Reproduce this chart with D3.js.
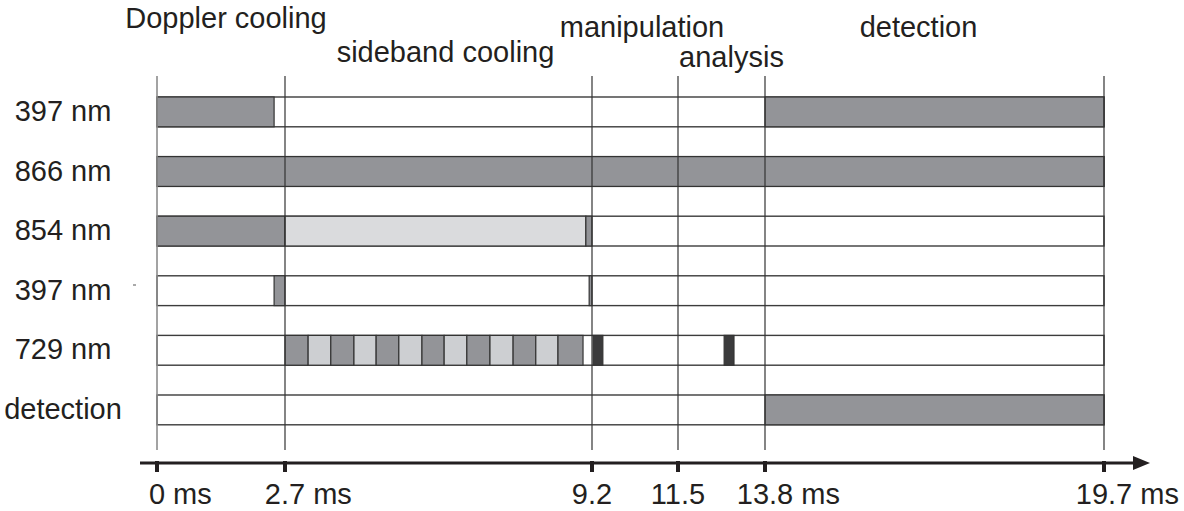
<!DOCTYPE html>
<html>
<head>
<meta charset="utf-8">
<script src="https://cdn.jsdelivr.net/npm/d3@7"></script>
<style>
  html, body { margin: 0; padding: 0; background: #fff; }
  svg { display: block; font-family: "Liberation Sans", Arial, Helvetica, sans-serif; }
</style>
</head>
<body>
<svg id="chart" width="1184" height="511"></svg>
<script>
// Laser pulse sequence: channels, time marks and pulses (times in ms)
const channels = ["397 nm", "866 nm", "854 nm", "397 nm", "729 nm", "detection"];

const timeMarks  = [0, 2.7, 9.2, 11.5, 13.8, 19.7];
const timeLabels = ["0 ms", "2.7 ms", "9.2", "11.5", "13.8 ms", "19.7 ms"];

const phaseNames = ["Doppler cooling", "sideband cooling", "manipulation", "analysis", "detection"];
const phaseStart = [0, 2.7, 9.2, 11.5, 13.8];
const phaseEnd   = [2.7, 9.2, 11.5, 13.8, 19.7];

// pulse: [channel index, start, end, shade]
const pulses = [
  [0, 0,    2.47, "mid"],
  [0, 13.8, 19.7, "mid"],
  [1, 0,    19.7, "mid"],
  [2, 0,    2.7,  "mid"],
  [2, 2.7,  9.07, "light"],
  [2, 9.07, 9.2,  "mid"],
  [3, 2.47, 2.7,  "mid"],
  [3, 9.14, 9.2,  "mid"],
  [4, 2.7,  3.19, "mid"],
  [4, 3.19, 3.67, "pale"],
  [4, 3.67, 4.16, "mid"],
  [4, 4.16, 4.63, "pale"],
  [4, 4.63, 5.11, "mid"],
  [4, 5.11, 5.60, "pale"],
  [4, 5.60, 6.07, "mid"],
  [4, 6.07, 6.55, "pale"],
  [4, 6.55, 7.04, "mid"],
  [4, 7.04, 7.53, "pale"],
  [4, 7.53, 8.01, "mid"],
  [4, 8.01, 8.48, "pale"],
  [4, 8.48, 9.01, "mid"],
  [4, 9.23, 9.49, "dark"],
  [4, 12.72, 12.98, "dark"],
  [5, 13.8, 19.7, "mid"]
];

const shadeColor = { mid: "#939498", light: "#dadbdd", pale: "#cdcfd2", dark: "#3b3b3c" };
const ink = "#231f20";
const fontSize = 29;

const svg = d3.select("#chart");

// piecewise time axis: each interval between marks has its own span
const x = d3.scaleLinear()
  .domain(timeMarks)
  .range([157, 285, 592, 678, 765, 1104]);

const y = d3.scaleBand()
  .domain(d3.range(channels.length))
  .range([67.2, 454.6])
  .paddingInner(0.5)
  .paddingOuter(0.5);

// channel rows
svg.append("g").selectAll("rect")
  .data(channels)
  .join("rect")
  .attr("x", x(0))
  .attr("y", (d, i) => y(i))
  .attr("width", x(19.7) - x(0))
  .attr("height", y.bandwidth())
  .attr("fill", "#fff")
  .attr("stroke", "#3c3c3c")
  .attr("stroke-width", 1.4);

// pulses
svg.append("g").selectAll("rect")
  .data(pulses)
  .join("rect")
  .attr("x", d => x(d[1]))
  .attr("y", d => y(d[0]))
  .attr("width", d => x(d[2]) - x(d[1]))
  .attr("height", y.bandwidth())
  .attr("fill", d => shadeColor[d[3]])
  .attr("stroke", "#333")
  .attr("stroke-width", 1.2);

// phase boundaries
svg.append("g").selectAll("line")
  .data(timeMarks)
  .join("line")
  .attr("x1", d => x(d)).attr("x2", d => x(d))
  .attr("y1", 76).attr("y2", 450)
  .attr("stroke", d => d === 0 ? "#8c8c8c" : "#333")
  .attr("stroke-width", d => d === 0 ? 1.6 : 1.2);

// channel labels
svg.append("g").selectAll("text")
  .data(channels)
  .join("text")
  .attr("x", 63)
  .attr("y", (d, i) => y(i) + y.bandwidth() / 2 + 9)
  .attr("text-anchor", "middle")
  .attr("font-size", fontSize)
  .attr("fill", ink)
  .text(d => d);

// small mark beside the second 397 nm channel
svg.append("line")
  .attr("x1", 133).attr("x2", 136)
  .attr("y1", 285).attr("y2", 285)
  .attr("stroke", "#555").attr("stroke-width", 1);

// phase titles, staggered in two lines
const titleY  = [28, 62, 37, 67, 37];
const titleDx = [5, 7, 7, 10, -16];
svg.append("g").selectAll("text")
  .data(phaseNames)
  .join("text")
  .attr("x", (d, i) => (x(phaseStart[i]) + x(phaseEnd[i])) / 2 + titleDx[i])
  .attr("y", (d, i) => titleY[i])
  .attr("text-anchor", "middle")
  .attr("font-size", fontSize)
  .attr("fill", ink)
  .text(d => d);

// time axis with arrow
const axisY = 463;
svg.append("line")
  .attr("x1", 140).attr("x2", 1138)
  .attr("y1", axisY).attr("y2", axisY)
  .attr("stroke", ink).attr("stroke-width", 3);
svg.append("path")
  .attr("d", `M1150,${axisY} L1133,${axisY - 7} L1133,${axisY + 7} Z`)
  .attr("fill", ink);

svg.append("g").selectAll("rect")
  .data(timeMarks)
  .join("rect")
  .attr("x", d => x(d) - 2)
  .attr("y", axisY - 2)
  .attr("width", 4)
  .attr("height", 11)
  .attr("fill", ink);

// tick labels: the number is centred on its mark, the unit trails after it
const tickText = svg.append("g").selectAll("text")
  .data(timeMarks)
  .join("text")
  .attr("y", 504)
  .attr("font-size", fontSize)
  .attr("fill", ink)
  .text((d, i) => timeLabels[i]);

tickText.each(function (d, i) {
  const num = timeLabels[i].split(" ")[0];
  const probe = svg.append("text").attr("font-size", fontSize).text(num);
  const w = probe.node().getComputedTextLength();
  probe.remove();
  d3.select(this).attr("x", x(d) - w / 2);
});
</script>
</body>
</html>
